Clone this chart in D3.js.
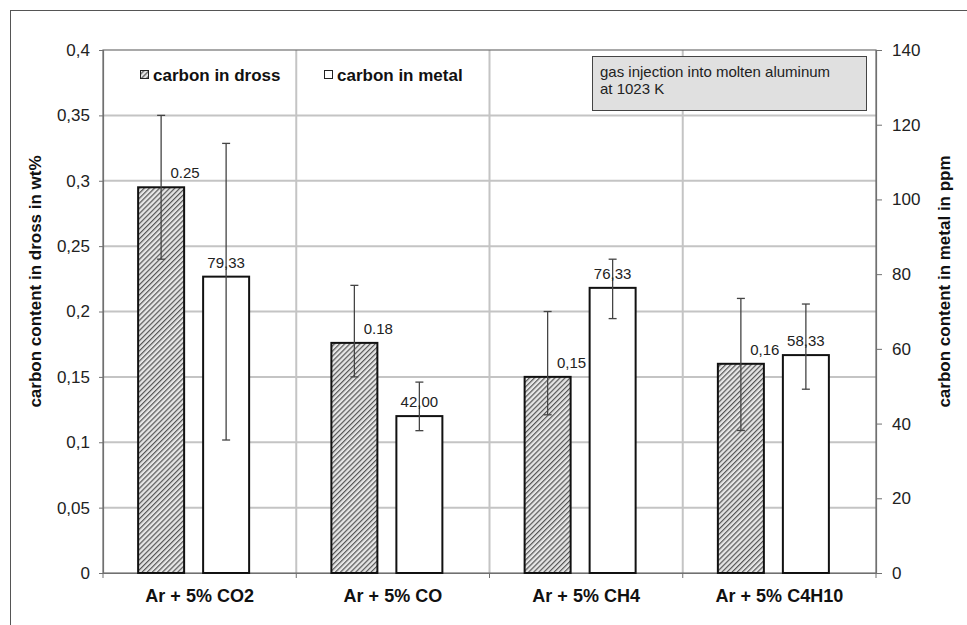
<!DOCTYPE html>
<html>
<head>
<meta charset="utf-8">
<script src="https://cdn.jsdelivr.net/npm/d3@7"></script>
<style>
  body { margin: 0; background: #fff; }
  svg { display: block; font-family: "Liberation Sans", Arial, sans-serif; }
</style>
</head>
<body>
<div id="chart"></div>
<script>
// values
var categories = ["Ar + 5% CO2", "Ar + 5% CO", "Ar + 5% CH4", "Ar + 5% C4H10"];

var drossValues = [0.295, 0.176, 0.150, 0.160];
var drossErrLow = [0.240, 0.150, 0.121, 0.109];
var drossErrHigh = [0.350, 0.220, 0.200, 0.210];
var drossLabels = ["0.25", "0.18", "0,15", "0,16"];

var metalValues = [79.33, 42.00, 76.33, 58.33];
var metalErrLow = [35.6, 38.1, 68.1, 49.2];
var metalErrHigh = [115.0, 51.1, 84.0, 72.0];
var metalLabels = ["79,33", "42,00", "76,33", "58,33"];

var leftTicks = [0, 0.05, 0.1, 0.15, 0.2, 0.25, 0.3, 0.35, 0.4];
var leftTickLabels = ["0", "0,05", "0,1", "0,15", "0,2", "0,25", "0,3", "0,35", "0,4"];
var rightTicks = [0, 20, 40, 60, 80, 100, 120, 140];

var width = 967, height = 625;
var plot = {left: 103, right: 876, top: 50, bottom: 573};

var svg = d3.select("#chart").append("svg")
    .attr("width", width)
    .attr("height", height);

// hatch for the dross bars
var defs = svg.append("defs");
var pat = defs.append("pattern")
    .attr("id", "hatch")
    .attr("patternUnits", "userSpaceOnUse")
    .attr("width", 3.6)
    .attr("height", 3.6)
    .attr("patternTransform", "rotate(45)");
pat.append("rect")
    .attr("width", 3.6).attr("height", 3.6)
    .attr("fill", "#e6e6e6");
pat.append("line")
    .attr("x1", 0.6).attr("y1", 0).attr("x2", 0.6).attr("y2", 3.6)
    .attr("stroke", "#555").attr("stroke-width", 1.2);

// outer frame of the chart
svg.append("rect")
    .attr("x", 10.5).attr("y", 10.5)
    .attr("width", width).attr("height", height)
    .attr("fill", "none")
    .attr("stroke", "#555")
    .attr("stroke-width", 1);

var x0 = d3.scaleBand()
    .domain(categories)
    .range([plot.left, plot.right])
    .padding(0);

var x1 = d3.scaleBand()
    .domain(["dross", "metal"])
    .range([0, 111])
    .paddingInner(19 / 65)
    .paddingOuter(0);

var groupOffset = (x0.bandwidth() - 111) / 2 - 6;

var yL = d3.scaleLinear().domain([0, 0.4]).range([plot.bottom, plot.top]);
var yR = d3.scaleLinear().domain([0, 140]).range([plot.bottom, plot.top]);

// horizontal gridlines
svg.append("g")
    .attr("class", "grid-h")
    .selectAll("line")
    .data(leftTicks.slice(1, -1))
    .enter().append("line")
    .attr("x1", plot.left).attr("x2", plot.right)
    .attr("y1", function(d) { return yL(d); })
    .attr("y2", function(d) { return yL(d); })
    .attr("stroke", "#c4c4c4")
    .attr("stroke-width", 2);

// vertical gridlines between categories
svg.append("g")
    .attr("class", "grid-v")
    .selectAll("line")
    .data(categories.slice(1))
    .enter().append("line")
    .attr("x1", function(d) { return x0(d); })
    .attr("x2", function(d) { return x0(d); })
    .attr("y1", plot.top).attr("y2", plot.bottom)
    .attr("stroke", "#c4c4c4")
    .attr("stroke-width", 2);

// plot frame
svg.append("rect")
    .attr("x", plot.left).attr("y", plot.top)
    .attr("width", plot.right - plot.left)
    .attr("height", plot.bottom - plot.top)
    .attr("fill", "none")
    .attr("stroke", "#707070")
    .attr("stroke-width", 1.2);

// left axis
var yAxisL = d3.axisLeft(yL)
    .tickValues(leftTicks)
    .tickSize(4)
    .tickPadding(9)
    .tickFormat(function(d, i) { return leftTickLabels[i]; });

var gL = svg.append("g")
    .attr("class", "y-axis")
    .attr("transform", "translate(" + plot.left + ",0)")
    .call(yAxisL);

// right axis
var yAxisR = d3.axisRight(yR)
    .tickValues(rightTicks)
    .tickSize(6)
    .tickPadding(10);

var gR = svg.append("g")
    .attr("class", "y1-axis")
    .attr("transform", "translate(" + plot.right + ",0)")
    .call(yAxisR);

// x axis
var xAxis = d3.axisBottom(x0).tickSize(0).tickPadding(16);
var gX = svg.append("g")
    .attr("class", "x-axis")
    .attr("transform", "translate(0," + plot.bottom + ")")
    .call(xAxis);

gX.selectAll(".tick text")
    .attr("font-size", 18)
    .attr("font-weight", "bold")
    .attr("fill", "#111");

// small ticks at the category boundaries
gX.selectAll(".cat-tick")
    .data(categories.concat(["end"]))
    .enter().append("line")
    .attr("class", "cat-tick")
    .attr("x1", function(d, i) { return plot.left + i * x0.step(); })
    .attr("x2", function(d, i) { return plot.left + i * x0.step(); })
    .attr("y1", 0).attr("y2", 5)
    .attr("stroke", "#707070");

[gL, gR, gX].forEach(function(g) {
  g.select(".domain").attr("stroke", "#707070").attr("stroke-width", 1.2);
  g.selectAll(".tick line").attr("stroke", "#707070");
});
[gL, gR].forEach(function(g) {
  g.selectAll(".tick text")
      .attr("font-size", 17)
      .attr("fill", "#222");
});

// bars
var groups = svg.append("g")
    .attr("class", "bars")
    .selectAll("g")
    .data(categories)
    .enter().append("g")
    .attr("transform", function(d) { return "translate(" + (x0(d) + groupOffset) + ",0)"; });

groups.append("rect")
    .attr("x", x1("dross"))
    .attr("width", x1.bandwidth())
    .attr("y", function(d, i) { return yL(drossValues[i]); })
    .attr("height", function(d, i) { return plot.bottom - yL(drossValues[i]); })
    .attr("fill", "url(#hatch)")
    .attr("stroke", "#111")
    .attr("stroke-width", 2);

groups.append("rect")
    .attr("x", x1("metal"))
    .attr("width", x1.bandwidth())
    .attr("y", function(d, i) { return yR(metalValues[i]); })
    .attr("height", function(d, i) { return plot.bottom - yR(metalValues[i]); })
    .attr("fill", "#fff")
    .attr("stroke", "#111")
    .attr("stroke-width", 2);

// error bars
function errorBar(sel, cx, scale, lo, hi) {
  sel.append("line")
      .attr("x1", cx).attr("x2", cx)
      .attr("y1", function(d, i) { return scale(lo[i]); })
      .attr("y2", function(d, i) { return scale(hi[i]); })
      .attr("stroke", "#444").attr("stroke-width", 1.3);
  [lo, hi].forEach(function(arr) {
    sel.append("line")
        .attr("x1", cx - 4).attr("x2", cx + 4)
        .attr("y1", function(d, i) { return scale(arr[i]); })
        .attr("y2", function(d, i) { return scale(arr[i]); })
        .attr("stroke", "#444").attr("stroke-width", 1.3);
  });
}
errorBar(groups, x1("dross") + x1.bandwidth() / 2, yL, drossErrLow, drossErrHigh);
errorBar(groups, x1("metal") + x1.bandwidth() / 2, yR, metalErrLow, metalErrHigh);

// value labels
groups.append("text")
    .attr("x", x1("dross") + x1.bandwidth() / 2 + 24)
    .attr("y", function(d, i) { return yL(drossValues[i]) - 9; })
    .attr("text-anchor", "middle")
    .attr("font-size", 15)
    .attr("fill", "#222")
    .text(function(d, i) { return drossLabels[i]; });

groups.append("text")
    .attr("x", x1("metal") + x1.bandwidth() / 2)
    .attr("y", function(d, i) { return yR(metalValues[i]) - 9; })
    .attr("text-anchor", "middle")
    .attr("font-size", 15)
    .attr("fill", "#222")
    .text(function(d, i) { return metalLabels[i]; });

// axis titles
svg.append("text")
    .attr("transform", "translate(41," + ((plot.top + plot.bottom) / 2 - 30) + ") rotate(-90)")
    .attr("text-anchor", "middle")
    .attr("font-size", 17)
    .attr("font-weight", "bold")
    .attr("fill", "#111")
    .text("carbon content in dross in wt%");

svg.append("text")
    .attr("transform", "translate(950," + ((plot.top + plot.bottom) / 2 - 30) + ") rotate(-90)")
    .attr("text-anchor", "middle")
    .attr("font-size", 17)
    .attr("font-weight", "bold")
    .attr("fill", "#111")
    .text("carbon content in metal in ppm");

// legend
var legend = svg.append("g").attr("class", "legend");
legend.append("rect")
    .attr("x", 140.5).attr("y", 70.5).attr("width", 8).attr("height", 8)
    .attr("fill", "url(#hatch)").attr("stroke", "#222");
legend.append("text")
    .attr("x", 153).attr("y", 81)
    .attr("font-size", 17).attr("font-weight", "bold").attr("fill", "#111")
    .text("carbon in dross");
legend.append("rect")
    .attr("x", 324.5).attr("y", 70.5).attr("width", 8).attr("height", 8)
    .attr("fill", "#fff").attr("stroke", "#222");
legend.append("text")
    .attr("x", 337).attr("y", 81)
    .attr("font-size", 17).attr("font-weight", "bold").attr("fill", "#111")
    .text("carbon in metal");

// note box
var note = svg.append("g").attr("class", "note");
note.append("rect")
    .attr("x", 592.5).attr("y", 56.5).attr("width", 274).attr("height", 54)
    .attr("fill", "#e0e0e0").attr("stroke", "#444");
note.append("text")
    .attr("x", 600).attr("y", 77)
    .attr("font-size", 15).attr("fill", "#222")
    .text("gas injection into molten aluminum");
note.append("text")
    .attr("x", 600).attr("y", 94)
    .attr("font-size", 15).attr("fill", "#222")
    .text("at 1023 K");
</script>
</body>
</html>
